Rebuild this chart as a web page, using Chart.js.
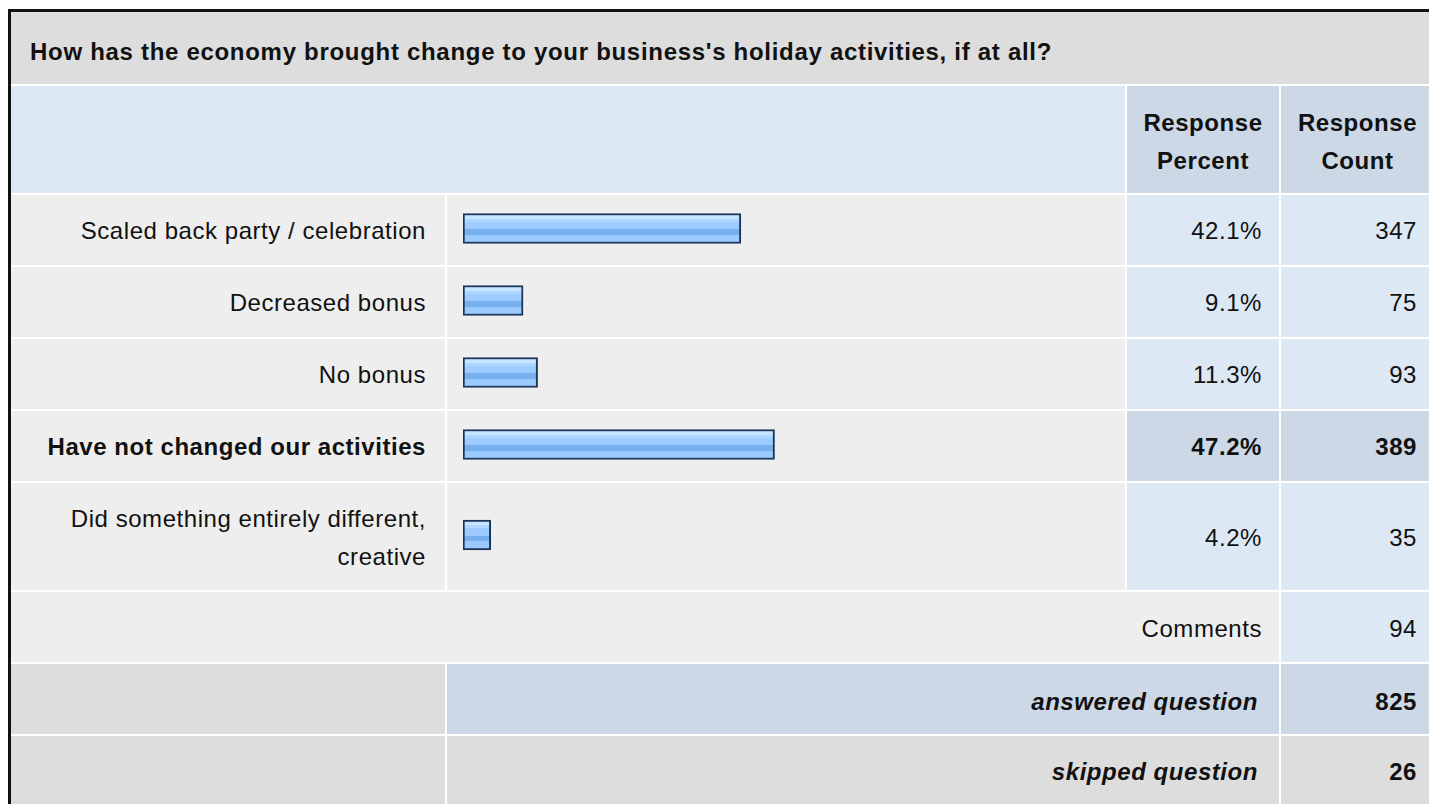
<!DOCTYPE html>
<html>
<head>
<meta charset="utf-8">
<title>Holiday activities survey</title>
<script src="https://cdn.jsdelivr.net/npm/chart.js@4.4.1/dist/chart.umd.min.js"></script>
<style>
  body { margin:0; background:#fff; font-family: Arial, "Liberation Sans", sans-serif; color:#111; }
  #frame { position:absolute; left:8px; top:9px; width:1440px; height:820px; border:3px solid #111; border-right:none; border-bottom:none; background:#fff; }
  .cell { position:absolute; display:flex; align-items:center; box-sizing:border-box; font-size:24px; line-height:38px; letter-spacing:0.55px; }
  .right { justify-content:flex-end; text-align:right; }
  .center { justify-content:center; text-align:center; }
  .bold { font-weight:bold; }
  .ital { font-style:italic; font-weight:bold; }
  .bar { position:absolute; }
</style>
</head>
<body>
<div id="frame"></div>
<div id="page"></div>
<script>
// Survey data
const question = "How has the economy brought change to your business's holiday activities, if at all?";
const categories = ['Scaled back party / celebration', 'Decreased bonus', 'No bonus', 'Have not changed our activities', 'Did something entirely different, creative'];
const percents = [42.1, 9.1, 11.3, 47.2, 4.2];
const counts = [347, 75, 93, 389, 35];
const commentsCount = 94;
const answeredCount = 825;
const skippedCount = 26;

// layout
const page = document.getElementById('page');
const COLS = {label:[11,434], bar:[447,678], pct:[1127,152], cnt:[1281,153]};
const ROW_H = 70, GAP = 2;
const C_GREY = '#dddddd', C_LIGHT = '#eeeeee', C_BLUE = '#dde8f5', C_BLUE2 = '#ccd8e6';

function cell(x, w, y, h, bg, html, cls, pad){
  const d = document.createElement('div');
  d.className = 'cell ' + (cls||'');
  d.style.left = x+'px'; d.style.top = y+'px';
  d.style.width = w+'px'; d.style.height = h+'px';
  d.style.background = bg;
  if (pad) d.style.padding = pad;
  d.innerHTML = html || '';
  page.appendChild(d);
  return d;
}

// title + header
const t = cell(11, 1430, 12, 72, C_GREY, question, 'bold', '7px 0 0 19px');
t.style.letterSpacing = '0.7px';
cell(11, 1114, 86, 107, C_BLUE, '');
cell(COLS.pct[0], COLS.pct[1], 86, 107, C_BLUE2, 'Response<br>Percent', 'bold center', '5px 0 0 0');
cell(COLS.cnt[0], COLS.cnt[1]+10, 86, 107, C_BLUE2, 'Response<br>Count', 'bold center', '5px 10px 0 0');

// answer rows
const maxPct = Math.max(...percents);
let y = 195;
categories.forEach((cat, i) => {
  const h = cat.length > 32 ? 107 : ROW_H;
  const top = percents[i] === maxPct;
  const b = top ? ' bold' : '';
  const label = cat.length > 32 ? cat.replace(', ', ',<br>') : cat;
  cell(COLS.label[0], COLS.label[1], y, h, C_LIGHT, label, 'right'+b, '2px 19px 0 0');
  cell(COLS.bar[0], COLS.bar[1], y, h, C_LIGHT, '');
  cell(COLS.pct[0], COLS.pct[1], y, h, top ? C_BLUE2 : C_BLUE, percents[i].toFixed(1)+'%', 'right'+b, '2px 17px 0 0');
  cell(COLS.cnt[0], COLS.cnt[1]+10, y, h, top ? C_BLUE2 : C_BLUE, counts[i], 'right'+b, '2px 27px 0 0');

  const wrap = document.createElement('div');
  wrap.className = 'bar';
  wrap.style.left = '463px'; wrap.style.top = y+'px';
  wrap.style.width = '660px'; wrap.style.height = (h-3)+'px';
  const cv = document.createElement('canvas');
  wrap.appendChild(cv);
  page.appendChild(wrap);
  makeBar(cv, cat, percents[i]);
  y += h + GAP;
});

// footer rows
cell(11, 1268, y, ROW_H, C_LIGHT, 'Comments', 'right', '4px 17px 0 0');
cell(COLS.cnt[0], COLS.cnt[1]+10, y, ROW_H, C_BLUE, commentsCount, 'right', '4px 27px 0 0');
y += ROW_H + GAP;
cell(11, 434, y, ROW_H, C_GREY, '');
cell(447, 832, y, ROW_H, C_BLUE2, 'answered question', 'right ital', '5px 21px 0 0');
cell(COLS.cnt[0], COLS.cnt[1]+10, y, ROW_H, C_BLUE2, answeredCount, 'right bold', '5px 27px 0 0');
y += ROW_H + GAP;
cell(11, 434, y, ROW_H, C_GREY, '');
cell(447, 832, y, ROW_H, C_GREY, 'skipped question', 'right ital', '2px 21px 0 0');
cell(COLS.cnt[0], COLS.cnt[1]+10, y, ROW_H, C_GREY, skippedCount, 'right bold', '2px 27px 0 0');

function barFill(context){
  const chart = context.chart;
  const area = chart.chartArea;
  if (!area) return '#9ccbff';
  const mid = (area.top + area.bottom) / 2;
  const g = chart.ctx.createLinearGradient(0, mid-13, 0, mid+13);
  g.addColorStop(0, '#c6e4ff');
  g.addColorStop(0.12, '#c6e4ff');
  g.addColorStop(0.13, '#b0d7ff');
  g.addColorStop(0.24, '#b0d7ff');
  g.addColorStop(0.25, '#9dcbff');
  g.addColorStop(0.52, '#9dcbff');
  g.addColorStop(0.53, '#76aeee');
  g.addColorStop(0.74, '#76aeee');
  g.addColorStop(0.75, '#9ac9fd');
  g.addColorStop(1, '#9ac9fd');
  return g;
}

function makeBar(canvas, label, value){
  return new Chart(canvas, {
    type:'bar',
    data:{labels:[label], datasets:[{data:[value], backgroundColor:barFill, borderColor:'#1b3559', borderWidth:2, borderSkipped:false, barThickness:30}]},
    options:{
      indexAxis:'y',
      responsive:true,
      maintainAspectRatio:false,
      animation:false,
      layout:{padding:0},
      plugins:{legend:{display:false}, tooltip:{enabled:false}},
      scales:{
        x:{min:0, max:100, display:false},
        y:{display:false}
      }
    }
  });
}
</script>
</body>
</html>
